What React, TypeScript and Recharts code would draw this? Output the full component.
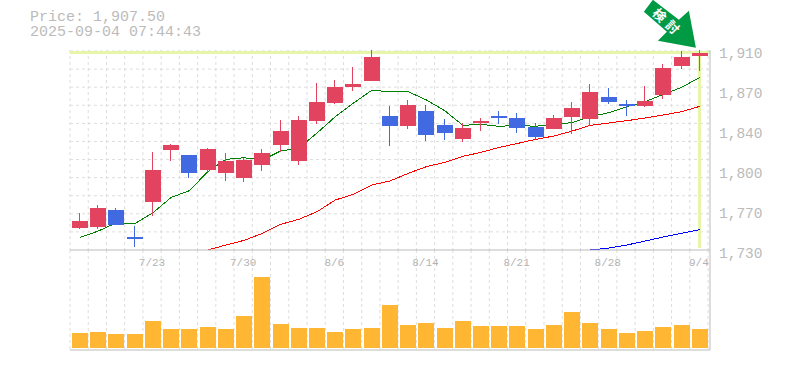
import React from 'react';
import { ComposedChart, Bar, Line, XAxis, YAxis, CartesianGrid, ReferenceLine, ReferenceDot } from 'recharts';

const dates = ['7/16', '7/17', '7/18', '7/22', '7/23', '7/24', '7/25', '7/28', '7/29', '7/30', '7/31', '8/1', '8/4', '8/5', '8/6', '8/7', '8/8', '8/12', '8/13', '8/14', '8/15', '8/18', '8/19', '8/20', '8/21', '8/22', '8/25', '8/26', '8/27', '8/28', '8/29', '9/1', '9/2', '9/3', '9/4'];
const opens = [1750, 1750.5, 1766, 1741.5, 1773, 1820, 1815.5, 1802, 1799.5, 1795, 1806.5, 1824.5, 1810, 1846, 1862.5, 1876.5, 1882, 1850.5, 1841.5, 1855, 1842.5, 1830, 1844.5, 1850.5, 1849, 1840.5, 1839, 1849.5, 1848, 1867.5, 1861.5, 1859.5, 1869.5, 1895.5, 1904.5];
const highs = [1763.5, 1770.5, 1768, 1751.5, 1818, 1825.5, 1815.5, 1822, 1817.5, 1813, 1821, 1847, 1850.5, 1880.5, 1883, 1894.5, 1910, 1859.5, 1865, 1860.5, 1848, 1844.5, 1849, 1855, 1853.5, 1844.5, 1851.5, 1863, 1879.5, 1876, 1865, 1877.5, 1897.5, 1909, 1910];
const lows = [1749, 1749, 1752.5, 1732.5, 1760.5, 1810, 1795, 1800, 1792, 1791, 1801, 1818, 1806.5, 1843.5, 1861.5, 1873, 1882, 1823.5, 1839, 1828, 1829, 1827, 1837, 1843.5, 1835.5, 1829, 1839, 1834.5, 1841.5, 1861.5, 1850.5, 1858.5, 1866, 1893, 1891];
const closes = [1756, 1768, 1752.5, 1740, 1802, 1824.5, 1799.5, 1821, 1810, 1811, 1817.5, 1837, 1847, 1863, 1876.5, 1879.5, 1903.5, 1841.5, 1860.5, 1833.5, 1835.5, 1840, 1846, 1849, 1840, 1831.5, 1849, 1858, 1872, 1863, 1859.5, 1864, 1894, 1903.5, 1907.5];
const maShort = [1741.3, 1747.1, 1754.6, 1753.7, 1763.6, 1777.4, 1783.4, 1800.5, 1811.6, 1813, 1811, 1819.1, 1821.8, 1835.3, 1850, 1862.3, 1873.7, 1872.5, 1872.5, 1865, 1855.4, 1842.2, 1843.1, 1841.3, 1842.2, 1841.3, 1843.4, 1844.6, 1850, 1853.6, 1859, 1863.5, 1870.1, 1876.4, 1885.4];
const maMid = [null, null, null, null, null, null, null, 1730, 1734.5, 1738.7, 1745, 1753.1, 1757.6, 1764.5, 1775, 1780.1, 1788.5, 1792.1, 1799, 1805, 1808.9, 1814.3, 1817.9, 1822.4, 1825.9, 1829.6, 1832.6, 1837.1, 1842.2, 1844.3, 1846.4, 1848.8, 1851.5, 1854.5, 1859.3];
const maLong = [null, null, null, null, null, null, null, null, null, null, null, null, null, null, null, null, null, null, null, null, null, null, null, null, null, null, null, null, 1730, 1731.8, 1734.5, 1738.1, 1741.7, 1745, 1748.4];
const volumes = [15, 16, 14, 14, 27, 19, 19, 21, 19, 32, 71, 24, 20, 20, 16, 19, 20, 43, 23, 25, 20, 27, 22, 22, 22, 19, 23, 36, 25, 19, 15, 17, 21, 23, 19];
const dateTicks = ['7/23', '7/30', '8/6', '8/14', '8/21', '8/28', '9/4'];
const priceTicks = [1730, 1766, 1802, 1838, 1874, 1910];

const rows = dates.map((date, i) => ({
  date,
  open: opens[i],
  high: highs[i],
  low: lows[i],
  close: closes[i],
  maShort: maShort[i],
  maMid: maMid[i],
  maLong: maLong[i],
  volume: volumes[i],
}));

const MONO = '"Liberation Mono", monospace';
const GREY = '#bbbbbb';
const GRID = '#dddddd';
const HILITE = '#e6f5a8';
const PRICE_DOMAIN = [1730, 1910];
const X_PAD = { left: 1, right: 1 };
const layer: React.CSSProperties = { position: 'absolute', left: 0, top: 0 };

const gridX = () => Array.from({ length: 36 }, (_, i) => 70 + i * 18.23);
const gridY = () => Array.from({ length: 11 }, (_, i) => 51 + i * 18.09);

function Candle(props: any) {
  const { x, y, width, height, payload } = props;
  const { open, high, low, close } = payload;
  const perUnit = height / (high - low);
  const top = y + (high - Math.max(open, close)) * perUnit;
  const bodyHeight = Math.max(Math.abs(close - open) * perUnit, 1);
  const color = close >= open ? '#e2435f' : '#4169e1';
  const mid = Math.round(x + width / 2);
  return (
    <g shapeRendering="crispEdges">
      <rect x={mid - 1} y={y} width={1} height={height} fill={color} />
      <rect x={x} y={top} width={width} height={bodyHeight} fill={color} />
    </g>
  );
}

function Arrow(props: any) {
  const { cx, cy } = props;
  const pts = [[-56, -41], [-47, -53], [-21, -33], [-11, -42], [-4, -5], [-42, -12], [-33, -21]];
  return (
    <g>
      <polygon points={pts.map(([a, b]) => `${cx + a},${cy + b}`).join(' ')} fill="#009944" />
      <text x={cx - 40} y={cy - 38} transform={`rotate(45 ${cx - 40} ${cy - 38})`} textAnchor="middle" dominantBaseline="central" fontFamily='"Noto Sans CJK JP"' fontWeight={700} fontSize={13} fill="#ffffff">検</text>
      <text x={cx - 27} y={cy - 26} transform={`rotate(45 ${cx - 27} ${cy - 26})`} textAnchor="middle" dominantBaseline="central" fontFamily='"Noto Sans CJK JP"' fontWeight={700} fontSize={13} fill="#ffffff">討</text>
    </g>
  );
}

function PriceTick(props: any) {
  const { x, y, payload } = props;
  const label = (Math.round(payload.value / 10) * 10).toLocaleString('en-US');
  return <text x={x + 1} y={y + 8} fontFamily={MONO} fontSize={14.5} fill={GREY}>{label}</text>;
}

function DateTick(props: any) {
  const { x, y, payload } = props;
  return <text x={x - 1} y={y + 8} textAnchor="middle" fontFamily={MONO} fontSize={11} fill="#b4b4b4">{payload.value}</text>;
}

export default function App() {
  return (
    <div style={{ position: 'absolute', left: 0, top: 0, width: 785, height: 370, background: '#fff', overflow: 'hidden' }}>
      <div style={{ position: 'absolute', left: 30, top: 11, fontFamily: MONO, fontSize: 15, lineHeight: '14.5px', color: GREY, whiteSpace: 'pre' }}>
        <div>Price: 1,907.50</div>
        <div>2025-09-04 07:44:43</div>
      </div>

      {/* volume panel */}
      <div style={{ position: 'absolute', left: 0, top: 250 }}>
        <ComposedChart width={785} height={105} data={rows} margin={{ top: 0, right: 0, bottom: 0, left: 70 }} barCategoryGap={0}>
          <CartesianGrid stroke={GRID} strokeDasharray="3 3" horizontal={false} verticalCoordinatesGenerator={gridX} />
          <XAxis dataKey="date" height={5} tick={false} tickLine={false} axisLine={{ stroke: GREY }} padding={X_PAD} />
          <YAxis orientation="right" width={75} domain={[-2, 98]} tick={false} tickLine={false} axisLine={{ stroke: GREY }} />
          <Bar dataKey="volume" fill="#ffb733" barSize={16} isAnimationActive={false} shapeRendering="crispEdges" />
        </ComposedChart>
      </div>

      {/* price panel, stacked so candles sit above the averages and the highlight */}
      <div style={layer}>
        <ComposedChart width={785} height={275} data={rows} margin={{ top: 50, right: 0, bottom: 0, left: 70 }}>
          <CartesianGrid stroke={GRID} strokeDasharray="3 3" verticalCoordinatesGenerator={gridX} horizontalCoordinatesGenerator={gridY} />
          <XAxis dataKey="date" scale="band" height={25} ticks={dateTicks} interval={0} tick={<DateTick />} tickLine={false} axisLine={{ stroke: GREY }} padding={X_PAD} />
          <YAxis orientation="right" width={75} domain={PRICE_DOMAIN} ticks={priceTicks} interval={0} tick={<PriceTick />} tickLine={false} axisLine={{ stroke: GREY }} />
          <ReferenceLine y={1907.5} stroke={HILITE} strokeWidth={3} shapeRendering="crispEdges" />
          <ReferenceLine segment={[{ x: '9/4', y: 1732 }, { x: '9/4', y: 1907.5 }]} stroke={HILITE} strokeWidth={3} shapeRendering="crispEdges" />
          <Line dataKey="maLong" stroke="#0000ff" strokeWidth={1} dot={false} type="linear" isAnimationActive={false} shapeRendering="crispEdges" />
          <Line dataKey="maMid" stroke="#ff0000" strokeWidth={1} dot={false} type="linear" isAnimationActive={false} shapeRendering="crispEdges" />
          <Line dataKey="maShort" stroke="#008000" strokeWidth={1} dot={false} type="linear" isAnimationActive={false} shapeRendering="crispEdges" />
        </ComposedChart>
      </div>

      <div style={layer}>
        <ComposedChart width={785} height={275} data={rows} margin={{ top: 50, right: 75, bottom: 25, left: 70 }} barCategoryGap={0}>
          <XAxis dataKey="date" hide padding={X_PAD} />
          <YAxis hide domain={PRICE_DOMAIN} />
          <Bar dataKey={(d: any) => [d.low, d.high]} shape={<Candle />} barSize={16} isAnimationActive={false} />
          <ReferenceDot x="9/4" y={1907.5} shape={<Arrow />} />
        </ComposedChart>
      </div>
    </div>
  );
}
